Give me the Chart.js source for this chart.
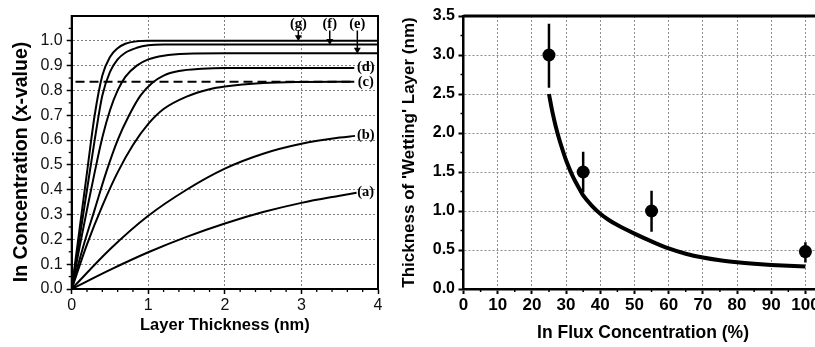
<!DOCTYPE html>
<html><head><meta charset="utf-8">
<script src="https://cdn.jsdelivr.net/npm/chart.js@4/dist/chart.umd.min.js"></script>
<style>
html,body{margin:0;padding:0;background:#fff;overflow:hidden;width:815px;height:347px;}
#c1{position:absolute;left:0;top:0;}
#c2{position:absolute;left:392px;top:0;}
</style></head><body>
<canvas id="c1" width="392" height="347"></canvas>
<canvas id="c2" width="437" height="347"></canvas>
<script>
// ---------- Left panel data: In concentration vs layer thickness ----------
const curveA = [[0,0],[0.5,0.077],[1,0.148],[1.5,0.21],[2,0.264],[2.5,0.31],[3,0.347],[3.5,0.376],[3.72,0.388]];
const curveB = [[0,0],[0.5,0.16],[1,0.295],[1.5,0.4],[2,0.485],[2.5,0.545],[3,0.585],[3.5,0.61],[3.7,0.617]];
const curveC = [[0,0],[0.2,0.18],[0.4,0.335],[0.6,0.47],[0.8,0.58],[1.0,0.665],[1.2,0.725],[1.5,0.775],[1.8,0.805],[2.0,0.816],[2.5,0.83],[3.0,0.834],[3.69,0.835]];
const curveD = [[0,0],[0.15,0.17],[0.3,0.32],[0.45,0.47],[0.6,0.6],[0.75,0.7],[0.9,0.78],[1.05,0.83],[1.2,0.86],[1.4,0.878],[1.7,0.887],[2.0,0.89],[3.69,0.89]];
const curveE = [[0,0],[0.1,0.165],[0.2,0.32],[0.3,0.47],[0.4,0.61],[0.5,0.72],[0.6,0.8],[0.7,0.855],[0.85,0.9],[1.0,0.925],[1.2,0.94],[1.5,0.948],[2.0,0.95],[4,0.95]];
const curveF = [[0,0],[0.1,0.2],[0.2,0.4],[0.3,0.6],[0.4,0.78],[0.5,0.875],[0.6,0.925],[0.7,0.952],[0.85,0.972],[1.0,0.982],[1.2,0.985],[4,0.985]];
const curveG = [[0,0],[0.1,0.235],[0.2,0.47],[0.3,0.7],[0.4,0.86],[0.5,0.935],[0.6,0.97],[0.7,0.988],[0.85,0.998],[1.0,1.0],[4,1.0]];
const dashedLevel = [[0.05,0.835],[3.69,0.835]];
const sideLabels = ['(a)','(b)','(c)','(d)'];
const sideLabelY = [0.388,0.62,0.835,0.895];
const topLabels = ['(g)','(f)','(e)'];
const topLabelX = [2.96,3.37,3.73];
const topArrowTip = [1.0,0.985,0.95];
const leftYTicks = ['0.0','0.1','0.2','0.3','0.4','0.5','0.6','0.7','0.8','0.9','1.0'];

// ---------- Right panel data: wetting layer thickness vs In flux ----------
const fluxPct = [25,35,55,100];
const wetThick = [3.0,1.5,1.0,0.48];
const errLow = [2.58,1.24,0.735,0.34];
const errHigh = [3.40,1.76,1.26,0.60];
const fitX = [25,26,27,28,29,30,31,32,33,34,35,37.5,40,42.5,45,50,55,60,65,70,75,80,85,90,95,100];
const fitY = [2.5,2.27,2.08,1.92,1.78,1.65,1.54,1.44,1.355,1.275,1.2,1.07,0.965,0.885,0.82,0.71,0.61,0.52,0.452,0.403,0.368,0.343,0.324,0.309,0.297,0.287];

const pts = a => a.map(([x,y]) => ({x,y}));
const FONT = "'Liberation Sans', Arial, sans-serif";

const minorTicks = {
  id:'minorTicks',
  afterDraw(chart, args, o){
    const ctx=chart.ctx, xs=chart.scales.x, ys=chart.scales.y, a=chart.chartArea;
    ctx.save(); ctx.strokeStyle='#000'; ctx.lineWidth=o.width;
    for(const v of o.x){const p=xs.getPixelForValue(v); if(p>a.right) continue; ctx.beginPath(); ctx.moveTo(p,a.bottom); ctx.lineTo(p,a.bottom+o.len); ctx.stroke();}
    for(const v of o.y){const p=ys.getPixelForValue(v); ctx.beginPath(); ctx.moveTo(a.left,p); ctx.lineTo(a.left-o.len,p); ctx.stroke();}
    ctx.restore();
  }
};
const frame = {
  id:'frame',
  afterDraw(chart, args, o){
    const ctx=chart.ctx, a=chart.chartArea;
    ctx.save(); ctx.strokeStyle='#000';
    if(o.full){ ctx.lineWidth=2; ctx.strokeRect(a.left,a.top,a.right-a.left,a.bottom-a.top); }
    else { ctx.lineWidth=3; ctx.beginPath(); ctx.moveTo(a.left,a.top); ctx.lineTo(a.right+20,a.top); ctx.stroke(); }
    ctx.restore();
  }
};
const curveLabels = {
  id:'curveLabels',
  afterDatasetsDraw(chart){
    const ctx=chart.ctx, xs=chart.scales.x, ys=chart.scales.y;
    ctx.save(); ctx.fillStyle='#000'; ctx.font="bold 14.5px 'Liberation Serif', serif";
    ctx.textAlign='center'; ctx.textBaseline='middle';
    sideLabels.forEach((t,i)=>ctx.fillText(t, xs.getPixelForValue(3.84), ys.getPixelForValue(sideLabelY[i])));
    topLabels.forEach((t,i)=>ctx.fillText(t, xs.getPixelForValue(topLabelX[i]), ys.getPixelForValue(1.066)));
    // y-axis title (drawn here to match the reference's vertical placement)
    ctx.save();
    ctx.translate(22, 162); ctx.rotate(-Math.PI/2);
    ctx.font = "bold 19.5px " + FONT;
    ctx.fillText('In Concentration (x-value)', 0, 0);
    ctx.restore();
    ctx.restore();
  }
};

const lineDs = (data, extra={}) => Object.assign({data: pts(data), borderColor:'#000', borderWidth:2, pointRadius:0, cubicInterpolationMode:'monotone', fill:false}, extra);

const leftDatasets = [
  lineDs(curveA), lineDs(curveB), lineDs(curveC), lineDs(curveD), lineDs(curveE), lineDs(curveF), lineDs(curveG),
  lineDs(dashedLevel, {borderDash:[9,5], borderWidth:2}),
  ...topLabelX.map((x,i)=>({data:[{x, y:1.042},{x, y:topArrowTip[i]+0.014}], borderColor:'#000', backgroundColor:'#000', borderWidth:1.5,
     pointRadius:[0,4], pointStyle:'triangle', pointRotation:180, pointBorderWidth:0, fill:false}))
];

const GRID_L = {color:'#808080', lineWidth:1, tickColor:'#000', tickLength:5, tickWidth:1.5};

new Chart(document.getElementById('c1'), {
  type:'line',
  data:{datasets:leftDatasets},
  options:{
    responsive:false, animation:false,
    layout:{padding:{top:16,right:14,left:0,bottom:0}},
    plugins:{legend:{display:false}, tooltip:{enabled:false},
      minorTicks:{x:[0.2,0.4,0.6,0.8,1.2,1.4,1.6,1.8,2.2,2.4,2.6,2.8,3.2,3.4,3.6,3.8], y:[0.05,0.15,0.25,0.35,0.45,0.55,0.65,0.75,0.85,0.95,1.05], len:3, width:1.3},
      frame:{full:true}},
    scales:{
      x:{type:'linear', min:0, max:4,
        ticks:{stepSize:1, color:'#111', font:{family:FONT, size:16}, padding:2, maxRotation:0},
        grid:GRID_L,
        border:{color:'#000', width:2, dash:[2,2]},
        title:{display:true, text:'Layer Thickness (nm)', color:'#000', font:{family:FONT, size:16.5, weight:'bold'}, padding:{top:0,bottom:12}},
        afterFit:s=>{s.height=58;}},
      y:{type:'linear', min:0, max:1.1,
        ticks:{stepSize:0.1, color:'#111', font:{family:FONT, size:16}, padding:4,
          callback:(v)=>{const i=Math.round(v*10); return i<leftYTicks.length?leftYTicks[i]:'';}},
        grid:Object.assign({}, GRID_L, {tickColor:(c)=>c.tick && c.tick.value>1.05?'rgba(0,0,0,0)':'#000'}),
        border:{color:'#000', width:2, dash:[2,2]},
        title:{display:false, text:'In Concentration (x-value)'},
        afterFit:s=>{s.width=71.7;}}
    }
  },
  plugins:[minorTicks, frame, curveLabels]
});

// ---------- Right chart ----------
const rightDatasets = [
  {data: fitX.map((x,i)=>({x, y:fitY[i]})), borderColor:'#000', borderWidth:4, pointRadius:0, cubicInterpolationMode:'monotone', fill:false},
  ...fluxPct.map((x,i)=>({data:[{x,y:errLow[i]},{x,y:errHigh[i]}], borderColor:'#000', borderWidth:2.5, pointRadius:0, fill:false})),
  {data: fluxPct.map((x,i)=>({x, y:wetThick[i]})), showLine:false, pointRadius:6.5, pointBackgroundColor:'#000', pointBorderColor:'#000', pointBorderWidth:0}
];

const GRID_R = {color:'#8c8c8c', lineWidth:1, tickColor:'#000', tickLength:5, tickWidth:2};

new Chart(document.getElementById('c2'), {
  type:'line',
  data:{datasets:rightDatasets},
  options:{
    responsive:false, animation:false,
    layout:{padding:{top:16,right:0,left:0,bottom:0}},
    plugins:{legend:{display:false}, tooltip:{enabled:false},
      minorTicks:{x:[5,15,25,35,45,55,65,75,85,95], y:[0.25,0.75,1.25,1.75,2.25,2.75,3.25], len:3, width:1.5},
      frame:{full:false}},
    scales:{
      x:{type:'linear', min:0, max:105,
        ticks:{stepSize:10, includeBounds:false, color:'#000', font:{family:FONT, size:17, weight:'bold'}, padding:1, maxRotation:0},
        grid:GRID_R,
        border:{color:'#000', width:2.5, dash:[2,2]},
        title:{display:true, text:'In Flux Concentration (%)', color:'#000', font:{family:FONT, size:17.5, weight:'bold'}, padding:{top:0,bottom:3.5}},
        afterFit:s=>{s.height=58;}},
      y:{type:'linear', min:0, max:3.5,
        ticks:{stepSize:0.5, color:'#000', font:{family:FONT, size:16, weight:'bold'}, padding:3.5, callback:(v)=>v.toFixed(1)},
        grid:GRID_R,
        border:{color:'#000', width:2.5, dash:[2,2]},
        title:{display:true, text:"Thickness of 'Wetting' Layer (nm)", color:'#000', font:{family:FONT, size:17, weight:'bold'}, padding:{top:7,bottom:0}},
        afterFit:s=>{s.width=71.5;}}
    }
  },
  plugins:[minorTicks, frame]
});
</script>
</body></html>
